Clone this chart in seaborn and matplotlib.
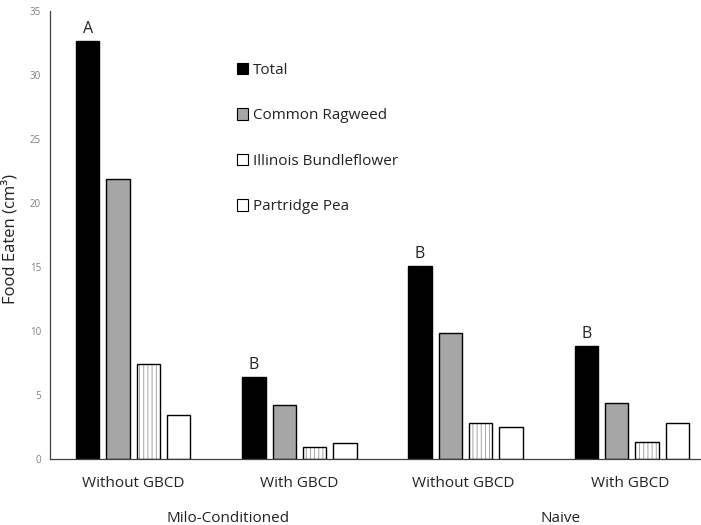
import numpy as np
import pandas as pd
import matplotlib
matplotlib.use("Agg")
import matplotlib.pyplot as plt
from matplotlib.patches import Patch, Rectangle
import seaborn as sns

# Data
treatments = ["Without GBCD", "With GBCD", "Without GBCD ", "With GBCD "]
groups = ["Milo-Conditioned", "Naive"]
series = ["Total", "Common Ragweed", "Illinois Bundleflower", "Partridge Pea"]
total = [32.65, 6.4, 15.1, 8.85]
ragweed = [21.85, 4.2, 9.85, 4.35]
bundleflower = [7.4, 0.95, 2.8, 1.35]
partridge = [3.45, 1.25, 2.5, 2.8]
letters = ["A", "B", "B", "B"]

df = pd.DataFrame({
    "treatment": treatments * 4,
    "series": np.repeat(series, 4),
    "value": total + ragweed + bundleflower + partridge,
})

colors = {"Total": "#000000", "Common Ragweed": "#a6a6a6",
          "Illinois Bundleflower": "#ffffff", "Partridge Pea": "#ffffff"}

sns.set_style("white")
plt.rcParams["font.family"] = ["Open Sans", "DejaVu Sans"]
plt.rcParams["hatch.linewidth"] = 0.6

fig = plt.figure(figsize=(7.01, 5.25), dpi=100)
ax = fig.add_axes([50 / 701, 66 / 525, 660 / 701, 448 / 525])

sns.barplot(data=df, x="treatment", y="value", hue="series", order=treatments,
            hue_order=series, palette=colors, width=0.73, gap=0.23,
            edgecolor="black", linewidth=1.0, legend=False, ax=ax)

# hatching on Illinois Bundleflower bars: gray hatch, black outline drawn on top
for bar in ax.containers[2]:
    bar.set_hatch("||||")
    bar.set_edgecolor("#999999")
    bar.set_linewidth(0)
    ax.add_patch(Rectangle(bar.get_xy(), bar.get_width(), bar.get_height(),
                           fill=False, edgecolor="black", linewidth=1.0))

# significance letters above Total bars
for bar, lab in zip(ax.containers[0], letters):
    ax.annotate(lab, (bar.get_x() + bar.get_width() / 2, bar.get_height()),
                xytext=(0, 3), textcoords="offset points", ha="center",
                va="bottom", fontsize=11.5, color="#222222")

ax.set_xlim(-0.5, 3.47)
ax.set_ylim(0, 35)
ax.set_yticks(range(0, 36, 5))
ax.tick_params(axis="y", labelsize=7, labelcolor="#808080", direction="inout",
               length=5, width=0.8, color="#404040", pad=4)
ax.tick_params(axis="x", length=0, labelsize=11, pad=12, labelcolor="#222222")
ax.set_xlabel("")
ax.set_ylabel("Food Eaten (cm³)", fontsize=12, color="#222222")
ax.yaxis.set_label_coords(-0.047, 0.49)

for side in ["top", "right"]:
    ax.spines[side].set_visible(False)
for side in ["left", "bottom"]:
    ax.spines[side].set_color("#404040")
    ax.spines[side].set_linewidth(0.9)

# group labels under the treatment labels
for i, g in enumerate(groups):
    ax.text(0.57 + 2 * i, -0.132, g, transform=ax.get_xaxis_transform(),
            ha="center", va="center", fontsize=11, color="#222222")

handles = [Patch(facecolor=colors[s], edgecolor="black", linewidth=0.8) for s in series]
fig.legend(handles, series, loc="upper left", bbox_to_anchor=(223 / 701, 1 - 49 / 525),
           frameon=False, fontsize=11, handlelength=0.75, handleheight=0.75,
           handletextpad=0.3, labelspacing=2.0, labelcolor="#222222")

fig.savefig("out.png", dpi=100)
